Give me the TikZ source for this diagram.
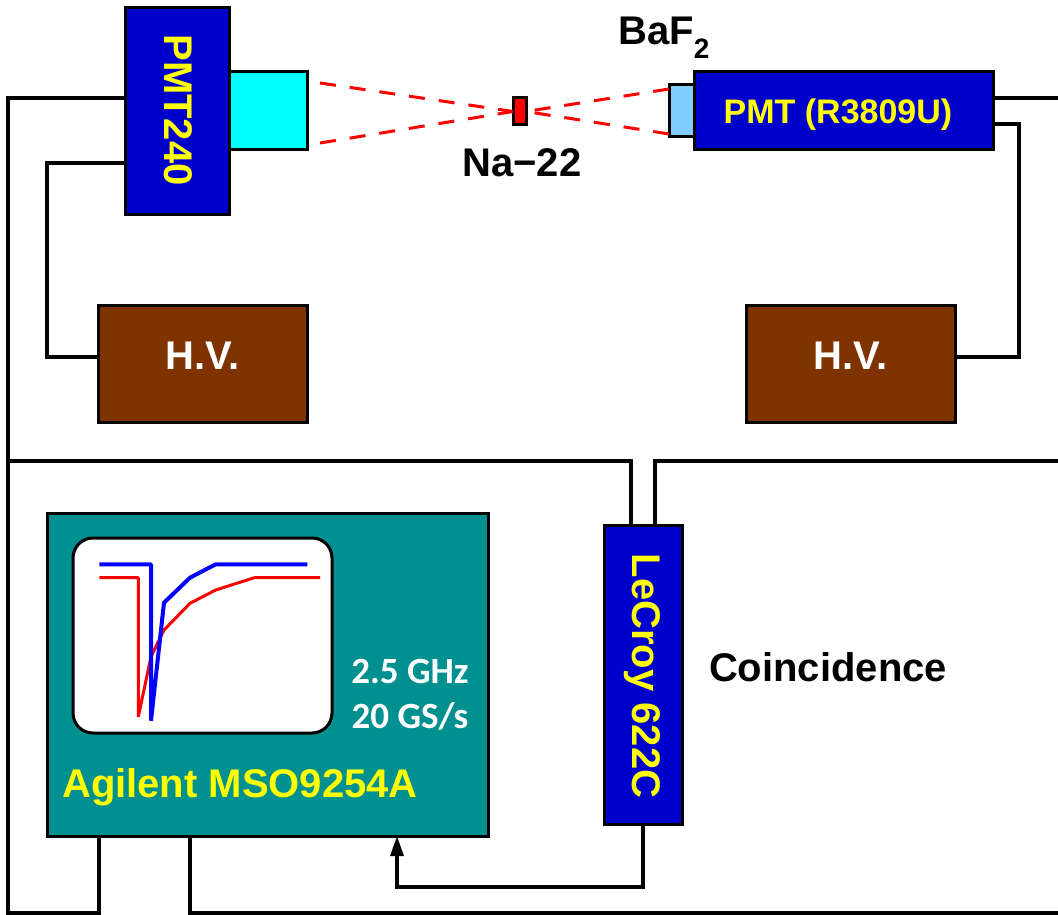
\documentclass[tikz,border=0pt]{standalone}
\usepackage{fontspec}
\setmainfont{Liberation Sans}
\newfontfamily\calfont{Carlito}
\usetikzlibrary{arrows.meta}
\definecolor{pmtblue}{HTML}{0000CC}
\definecolor{lightb}{HTML}{80CCFF}
\definecolor{hvbrown}{HTML}{7F3300}
\definecolor{scopeteal}{HTML}{009090}
\definecolor{crystal}{HTML}{00FFFF}
\definecolor{tred}{HTML}{FF0000}
\definecolor{tblue}{HTML}{0000FF}
\definecolor{tyellow}{HTML}{FFFF00}
\newcommand{\bx}[6]{\node[boxed,fill=#6,minimum width=#4-#2 pt,minimum height=#5-#3 pt] (#1) at ({(#2+#4)/2},{(#3+#5)/2}) {};}
\tikzset{
  boxed/.style={draw=black,line width=3pt,inner sep=0pt,outer sep=0pt},
  wire/.style={draw=black,line width=3.2pt,line join=miter},
  ray/.style={draw=tred,line width=3pt,dash pattern=on 16pt off 14pt},
  lab/.style={font=\bfseries\fontsize{40}{46}\selectfont,inner sep=0pt},
  ylab/.style={lab,text=tyellow},
  wlab/.style={lab,text=white},
  calib/.style={font=\calfont\bfseries\fontsize{37}{44}\selectfont,text=white,inner sep=0pt},
  trace/.style={line join=bevel,line cap=butt}
}
\begin{document}
\begin{tikzpicture}[x=1pt,y=-1pt]
\useasboundingbox (0,0) rectangle (1058,915);
% boxes
\bx{pmtA}{125}{8}{229}{214}{pmtblue}
\bx{crysA}{229}{72}{307}{150}{crystal}
\bx{crysB}{669}{85}{694}{137}{lightb}
\bx{pmtB}{694}{72}{993}{150}{pmtblue}
\bx{src}{513}{98}{526}{125}{tred}
\bx{hvA}{98}{305}{307}{422}{hvbrown}
\bx{hvB}{746}{305}{955}{422}{hvbrown}
\bx{scope}{47}{513}{488}{836}{scopeteal}
\bx{lecroy}{604}{525}{682}{824}{pmtblue}
\node[boxed,fill=white,rounded corners=20pt,minimum width=259pt,minimum height=195pt] (screen) at (202.5,635.5) {};
% free ends and corner points
\coordinate (eA) at (1058,98);
\coordinate (eB) at (1058,461);
\coordinate (eC) at (1058,913);
\coordinate (cA) at (8,98);
\coordinate (cB) at (8,461);
\coordinate (cC) at (8,913);
\coordinate (cD) at (47,163);
\coordinate (cE) at (1019,124);
\coordinate (cF) at (99,913);
\coordinate (cG) at (190,913);
\coordinate (cH) at (631,461);
\coordinate (cI) at (655,461);
\coordinate (cJ) at (643,887);
\coordinate (cK) at (397,887);
\coordinate (cL) at (47,357);
\coordinate (cM) at (1019,357);
\coordinate (rA) at (320,83);
\coordinate (rB) at (320,143);
% wires
\draw[wire] (pmtA.west |- cA) -- (cA) -- (cC) -- (cF) -- (cF |- scope.south);
\draw[wire] (cB) -- (cH) -- (cH |- lecroy.north);
\draw[wire] (eB) -- (cI) -- (cI |- lecroy.north);
\draw[wire] (pmtA.west |- cD) -- (cD) -- (cL) -- (hvA.west |- cL);
\draw[wire] (pmtB.east |- eA) -- (eA);
\draw[wire] (pmtB.east |- cE) -- (cE) -- (cM) -- (hvB.east |- cM);
\draw[wire] (cG |- scope.south) -- (cG) -- (eC);
\draw[wire,-{Triangle[length=20pt,width=13pt]}] (cJ |- lecroy.south) -- (cJ) -- (cK) -- (cK |- scope.south);
% rays
\draw[ray] (rA) -- (src.west);
\draw[ray] (rB) -- (src.west);
\draw[ray] (crysB.west |- 0,89) -- (src.east);
\draw[ray] (crysB.west |- 0,134) -- (src.east);
% traces
\draw[trace,tred,line width=3pt] (99.3,577.7) -- (138.3,577.7) -- (138.3,716.7) -- (151,656.7) -- (164,630) -- (190,603.3) -- (215.7,590) -- (254.3,577.7) -- (320,577.7);
\draw[trace,tblue,line width=4pt] (99.3,564.3) -- (151,564.3) -- (151,720.7) -- (164,602.7) -- (190,577.7) -- (215.7,564.3) -- (307.3,564.3);
% labels
\node[ylab,rotate=-90] (tA) at (178,110) {PMT240};
\node[ylab,font=\bfseries\fontsize{34}{40}\selectfont] (tB) at (838,115) {PMT (R3809U)};
\node[wlab] (tC) at (203,356) {H.V.};
\node[wlab] (tD) at (851,356) {H.V.};
\node[lab] (tE) at (522,163) {Na−22};
\node[lab,anchor=base west] (tF) at (618,45) {BaF\raisebox{-14pt}{\fontsize{28}{32}\selectfont 2}};
\node[lab,rotate=-90,text=tyellow] (tG) at (642,676) {LeCroy 622C};
\node[lab] (tH) at (828,667) {Coincidence};
\node[ylab] (tI) at (240,787) {Agilent MSO9254A};
\node[calib] (tJ) at (410,671) {2.5 GHz};
\node[calib] (tK) at (410,716) {20 GS/s};
\end{tikzpicture}
\end{document}
